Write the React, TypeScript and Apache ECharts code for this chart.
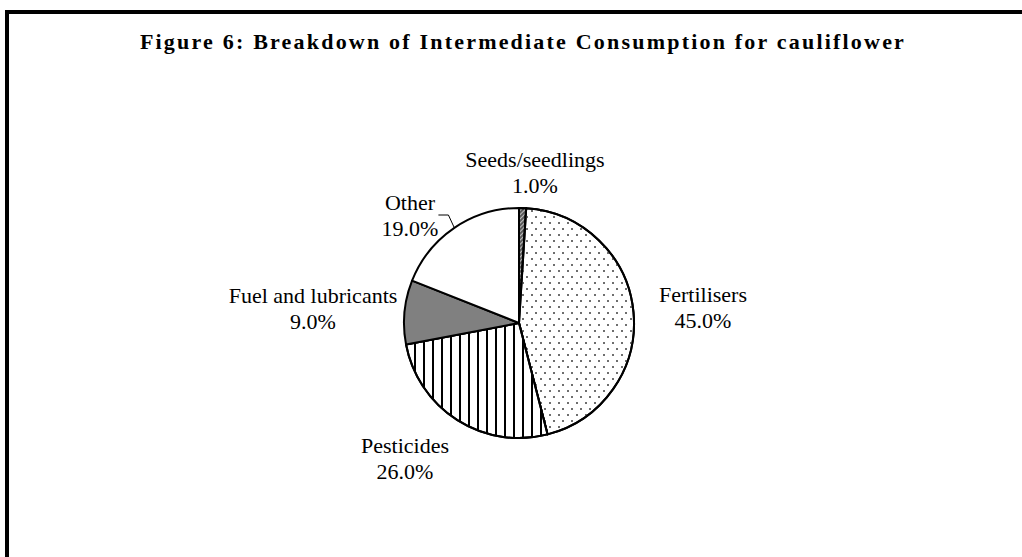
import React, { useEffect, useRef } from "react";
import * as echarts from "echarts";

// ---- data ----
const categories = ["Seeds/seedlings", "Fertilisers", "Pesticides", "Fuel and lubricants", "Other"];
const shares = [1.0, 45.0, 26.0, 9.0, 19.0];
const titleText = "Figure 6: Breakdown of Intermediate Consumption for cauliflower";

// ---- styling / layout (not data) ----
const FONT = "'Liberation Serif', 'Times New Roman', serif";
const sliceStyles: any[] = [
  {
    color: "#5a5a5a",
    decal: { symbol: "rect", color: "#bdbdbd", dashArrayX: [1, 0], dashArrayY: [1, 2], rotation: -Math.PI / 4 },
  },
  {
    color: "#ffffff",
    decal: {
      symbol: "rect",
      symbolSize: 1,
      color: "#6e6e6e",
      dashArrayX: [[1.6, 6.4], [0, 4, 1.6, 2.4]],
      dashArrayY: [1.6, 3.4],
    },
  },
  {
    color: "#ffffff",
    decal: { symbol: "rect", symbolSize: 1, color: "#000000", dashArrayX: [1.5, 6.5], dashArrayY: [10, 0] },
  },
  { color: "#808080" },
  { color: "#ffffff" },
];
// label block centres (px) for each slice, in category order
const labelCentres: number[][] = [
  [535, 172],
  [703, 307],
  [405, 458],
  [313, 308],
  [410, 215],
];

export default function App() {
  const ref = useRef<HTMLDivElement>(null);

  useEffect(() => {
    if (!ref.current) return;
    const chart = echarts.init(ref.current, null, { renderer: "svg" });
    const option: any = {
      animation: false,
      backgroundColor: "#ffffff",
      graphic: [
        {
          type: "rect",
          shape: { x: 7, y: 12, width: 1200, height: 800 },
          style: { fill: "none", stroke: "#000000", lineWidth: 4 },
          silent: true,
        },
        {
          type: "text",
          x: 523,
          y: 41,
          style: {
            text: titleText,
            font: `bold 22px ${FONT}`,
            fill: "#000000",
            align: "center",
            verticalAlign: "middle",
          },
        },
      ],
      series: [
        {
          type: "pie",
          center: [519, 323],
          radius: 115,
          startAngle: 90,
          clockwise: true,
          avoidLabelOverlap: false,
          emphasis: { disabled: true },
          itemStyle: { borderColor: "#000000", borderWidth: 2 },
          label: {
            show: true,
            position: "outside",
            color: "#000000",
            fontFamily: FONT,
            fontSize: 22,
            lineHeight: 26,
            align: "center",
            formatter: (p: any) => `${p.name}\n${Number(p.value).toFixed(1)}%`,
          },
          labelLine: { show: false, length: 8, length2: 10, lineStyle: { color: "#000000", width: 1 } },
          labelLayout: (p: any) => {
            const c = labelCentres[p.dataIndex];
            return { x: c[0], y: c[1], align: "center", verticalAlign: "middle" };
          },
          data: categories.map((name, i) => ({
            name,
            value: shares[i],
            itemStyle: sliceStyles[i],
            labelLine: name === "Other" ? { show: true } : { show: false },
          })),
        },
      ],
    };
    chart.setOption(option);
    const applySpacing = () => {
      const root = ref.current;
      if (!root) return;
      root.querySelectorAll("text").forEach((t) => {
        if ((t.textContent || "").startsWith("Figure")) {
          (t as any).style.letterSpacing = "2.2px";
        }
      });
    };
    chart.on("finished", applySpacing);
    applySpacing();
    return () => {
      chart.dispose();
    };
  }, []);

  return <div ref={ref} style={{ position: "absolute", left: 0, top: 0, width: 1022, height: 557 }} />;
}
